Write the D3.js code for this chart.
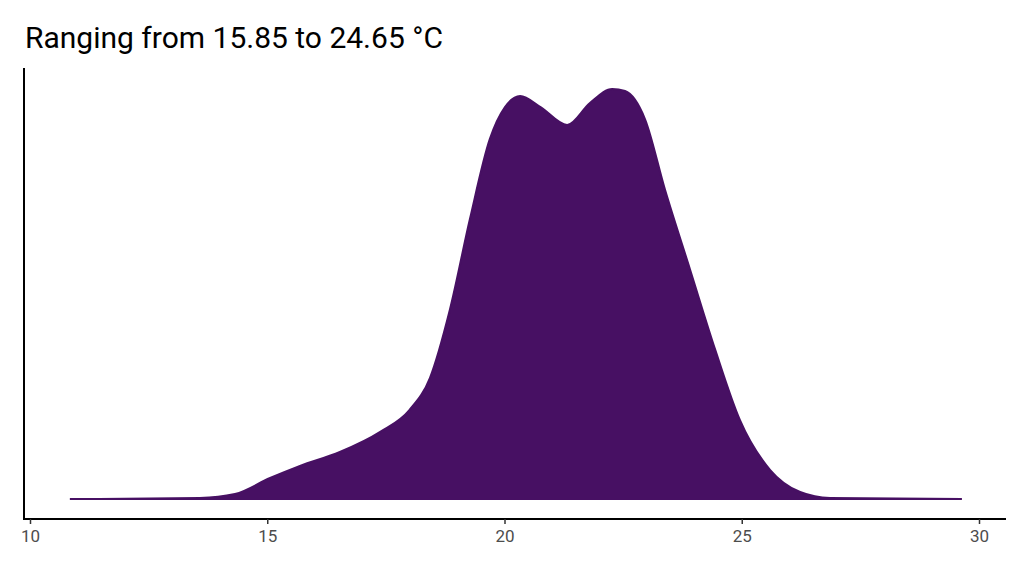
<!DOCTYPE html><html><head><meta charset="utf-8">
<script src="https://cdn.jsdelivr.net/npm/d3@7"></script>
<style>body{margin:0;background:#fff}</style></head><body>
<svg id="c" width="1024" height="576"></svg>
<script>
const temps=[10.84,13.58,14.32,15.06,15.69,16.53,17.38,18.0,18.43,18.85,19.27,19.69,20.01,20.33,20.76,21.32,21.8,22.27,22.54,22.96,23.38,23.91,24.44,24.96,25.6,26.23,26.86,29.64];
const dens=[0,.0005,.0024,.0102,.0161,.0229,.0327,.0434,.059,.0922,.1361,.1751,.1907,.1961,.1907,.182,.1927,.1995,.1985,.1849,.1507,.1117,.0727,.0385,.0141,.0034,.0005,0];
const xTicks=[10,15,20,25,30];
const title="Ranging from 15.85 to 24.65 °C";
const svg=d3.select("#c");
const x=d3.scaleLinear().domain([10,30]).range([30,979]);
const y=d3.scaleLinear().domain([0,0.1995]).range([499,89]);
const data=temps.map((t,i)=>({t,d:dens[i]}));
svg.append("path").datum(data).attr("fill","#471063").attr("stroke","#471063").attr("stroke-width",2)
 .attr("d",d3.area().x(d=>x(d.t)).y0(y(0)).y1(d=>y(d.d)).curve(d3.curveMonotoneX));
const ax=svg.append("g").attr("transform","translate(0,519)").call(d3.axisBottom(x).tickValues(xTicks).tickSize(5).tickPadding(6));
ax.select(".domain").attr("d","M24,0H1006").attr("stroke","#000").attr("stroke-width",2);
ax.selectAll(".tick line").attr("stroke","#333").attr("stroke-width",1.5);
ax.selectAll("text").attr("font-family","Roboto, sans-serif").attr("font-size",17).attr("fill","#4d4d4d");
svg.append("line").attr("x1",24).attr("x2",24).attr("y1",68).attr("y2",520).attr("stroke","#000").attr("stroke-width",2);
svg.append("text").attr("x",25).attr("y",48).attr("font-family","Roboto, sans-serif").attr("font-size",30).text(title);
</script></body></html>
